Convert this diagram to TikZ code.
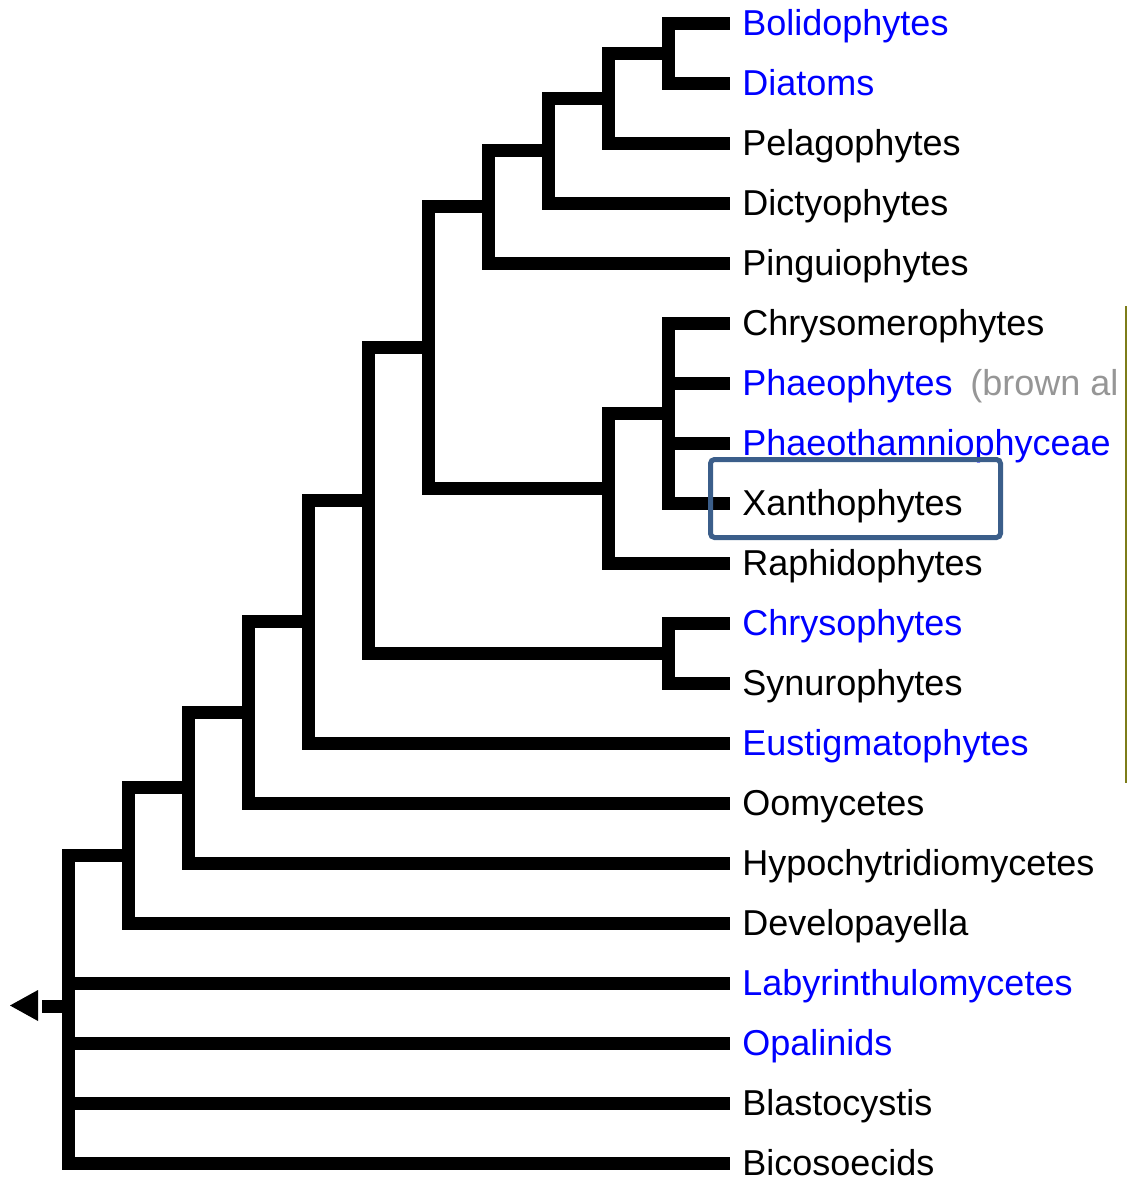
\documentclass[tikz,border=0pt]{standalone}
\usepackage{fontspec}
\setmainfont{Liberation Sans}
\usetikzlibrary{positioning}

\definecolor{linkblue}{RGB}{0,0,255}
\definecolor{notegray}{RGB}{150,150,150}
\definecolor{boxblue}{RGB}{59,94,138}
\definecolor{rulegold}{RGB}{125,125,25}

\tikzset{
  branch/.style={line width=6.5pt, black},
  leaf/.style={anchor=west, inner xsep=6pt, inner ysep=0pt, text height=12.9pt, text depth=0pt, font=\fontsize{18}{20}\selectfont},
  link/.style={leaf, text=linkblue},
  note/.style={leaf, inner xsep=0pt, text=notegray},
  hibox/.style={draw=boxblue, line width=2.5pt, rounded corners=2pt}
}

\begin{document}
\begin{tikzpicture}[x=0.5pt, y=-0.5pt]
  \useasboundingbox (0,0) rectangle (1128,1178);

  % taxa
  \node[link] (bol) at (730,23) {Bolidophytes};
  \node[link] (dia) at (730,83) {Diatoms};
  \node[leaf] (pel) at (730,143) {Pelagophytes};
  \node[leaf] (dic) at (730,203) {Dictyophytes};
  \node[leaf] (pin) at (730,263) {Pinguiophytes};
  \node[leaf] (chm) at (730,323) {Chrysomerophytes};
  \node[link] (pha) at (730,383) {Phaeophytes};
  \node[note, right=2.5pt of pha] (brown) {(brown al};
  \node[link] (phm) at (730,443) {Phaeothamniophyceae};
  \node[leaf] (xan) at (730,503) {Xanthophytes};
  \node[leaf] (rap) at (730,563) {Raphidophytes};
  \node[link] (chs) at (730,623) {Chrysophytes};
  \node[leaf] (syn) at (730,683) {Synurophytes};
  \node[link] (eus) at (730,743) {Eustigmatophytes};
  \node[leaf] (oom) at (730,803) {Oomycetes};
  \node[leaf] (hyp) at (730,863) {Hypochytridiomycetes};
  \node[leaf] (dev) at (730,923) {Developayella};
  \node[link] (lab) at (730,983) {Labyrinthulomycetes};
  \node[link] (opa) at (730,1043) {Opalinids};
  \node[leaf] (bla) at (730,1103) {Blastocystis};
  \node[leaf] (bic) at (730,1163) {Bicosoecids};

  % branch points
  \coordinate (bd) at (668,53);
  \coordinate (bdp) at (608,98);
  \coordinate (bdpd) at (548,150.5);
  \coordinate (diat) at (488,206.75);
  \coordinate (phx) at (668,413);
  \coordinate (phxr) at (608,488);
  \coordinate (ochro) at (428,347.4);
  \coordinate (cs) at (668,653);
  \coordinate (n368) at (368,500.2);
  \coordinate (n308) at (308,621.6);
  \coordinate (n248) at (248,712.3);
  \coordinate (n188) at (188,787.6);
  \coordinate (n128) at (128,855.3);
  \coordinate (root) at (68,1006);
  \coordinate (stub) at (42,1006);

  % branches
  \draw[branch] (bd) |- (bol.west);
  \draw[branch] (bd) |- (dia.west);
  \draw[branch] (bdp) |- (bd);
  \draw[branch] (bdp) |- (pel.west);
  \draw[branch] (bdpd) |- (bdp);
  \draw[branch] (bdpd) |- (dic.west);
  \draw[branch] (diat) |- (bdpd);
  \draw[branch] (diat) |- (pin.west);
  \draw[branch] (phx) |- (chm.west);
  \draw[branch] (phx) |- (pha.west);
  \draw[branch] (phx) |- (phm.west);
  \draw[branch] (phx) |- (xan.west);
  \draw[branch] (phxr) |- (phx);
  \draw[branch] (phxr) |- (rap.west);
  \draw[branch] (ochro) |- (diat);
  \draw[branch] (ochro) |- (phxr);
  \draw[branch] (cs) |- (chs.west);
  \draw[branch] (cs) |- (syn.west);
  \draw[branch] (n368) |- (ochro);
  \draw[branch] (n368) |- (cs);
  \draw[branch] (n308) |- (n368);
  \draw[branch] (n308) |- (eus.west);
  \draw[branch] (n248) |- (n308);
  \draw[branch] (n248) |- (oom.west);
  \draw[branch] (n188) |- (n248);
  \draw[branch] (n188) |- (hyp.west);
  \draw[branch] (n128) |- (n188);
  \draw[branch] (n128) |- (dev.west);
  \draw[branch] (root) |- (n128);
  \draw[branch] (root) |- (lab.west);
  \draw[branch] (root) |- (opa.west);
  \draw[branch] (root) |- (bla.west);
  \draw[branch] (root) |- (bic.west);
  \draw[branch] (stub) -- (root);
  \fill (38,990) -- (10,1005.5) -- (38,1021) -- cycle;

  % highlight and margin rule
  \draw[hibox] (710.5,459.5) rectangle (1000.5,537.5);
  \draw[rulegold, line width=1pt] (1126,306) -- (1126,783);
\end{tikzpicture}
\end{document}
